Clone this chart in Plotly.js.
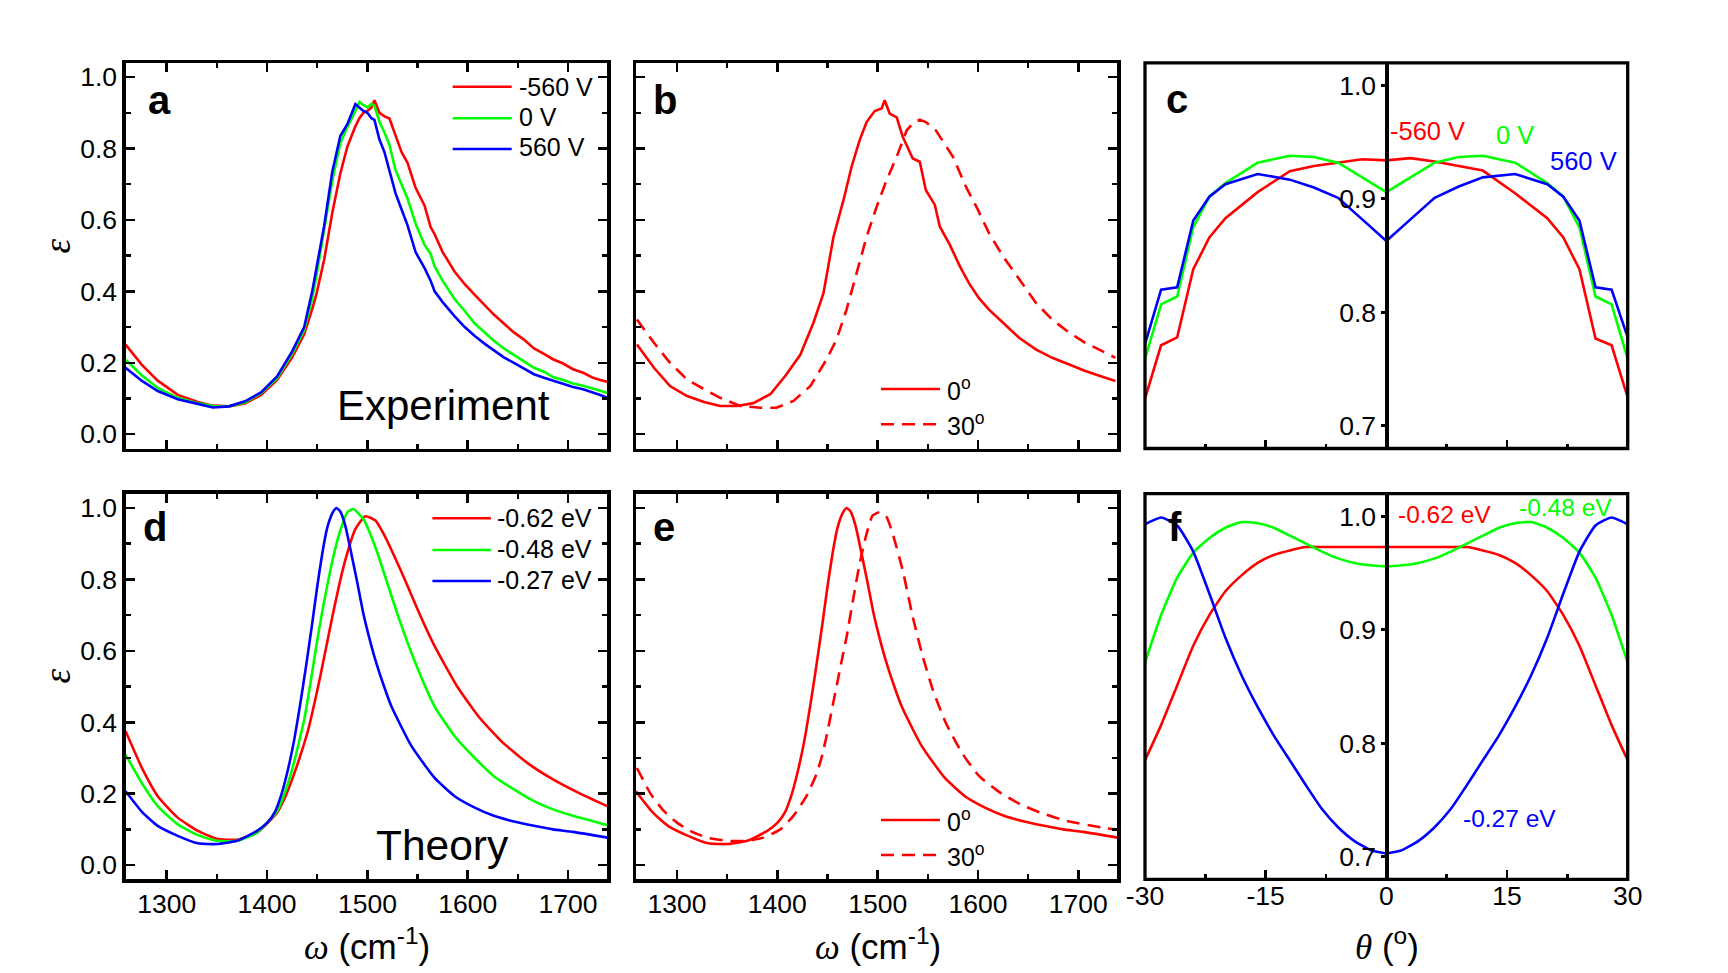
<!DOCTYPE html>
<html><head><meta charset="utf-8">
<script src="https://cdn.plot.ly/plotly-3.0.1.min.js"></script>
<style>html,body{margin:0;padding:0;background:#fff}#chart{width:1728px;height:973px}</style>
</head><body><div id="chart"></div>
<script>
// ---------------- DATA ----------------
// Panel a: experiment, spectra at three gate voltages
const omegaExp = [1259,1275,1291,1311,1331,1346,1362,1378,1394,1410,1425,1437,1445,1449,1457,1465,1473,1480,1488,1492,1496,1500,1504,1507,1512,1517,1522,1528,1534,1540,1548,1557,1563,1567,1575,1587,1597,1607,1617,1626,1636,1646,1656,1666,1676,1685,1695,1705,1715,1725,1732,1739];
const expRed   = [0.251,0.195,0.150,0.110,0.090,0.080,0.078,0.086,0.110,0.152,0.215,0.280,0.350,0.390,0.490,0.620,0.730,0.805,0.862,0.885,0.900,0.905,0.915,0.935,0.900,0.890,0.884,0.835,0.790,0.760,0.690,0.640,0.580,0.560,0.510,0.455,0.420,0.390,0.360,0.335,0.310,0.285,0.265,0.240,0.225,0.210,0.198,0.182,0.172,0.158,0.152,0.147];
const expGreen = [0.209,0.165,0.130,0.102,0.087,0.079,0.078,0.089,0.115,0.157,0.225,0.292,0.380,0.440,0.575,0.710,0.815,0.860,0.905,0.930,0.922,0.915,0.925,0.920,0.875,0.845,0.810,0.740,0.700,0.660,0.590,0.530,0.505,0.470,0.430,0.378,0.345,0.310,0.285,0.262,0.240,0.222,0.205,0.186,0.175,0.160,0.152,0.142,0.136,0.127,0.121,0.116];
const expBlue  = [0.186,0.150,0.121,0.098,0.085,0.075,0.078,0.092,0.117,0.162,0.232,0.300,0.400,0.465,0.585,0.735,0.835,0.868,0.924,0.915,0.905,0.900,0.885,0.880,0.825,0.790,0.735,0.675,0.630,0.585,0.510,0.465,0.430,0.400,0.370,0.330,0.300,0.275,0.253,0.235,0.215,0.200,0.185,0.168,0.158,0.150,0.140,0.132,0.126,0.117,0.110,0.102];
const expLabels = ['-560 V','0 V','560 V'];

// Panel b: experiment, 0 deg and 30 deg incidence
const omegaB0 = [1260,1277,1293,1310,1327,1343,1360,1376,1393,1409,1423,1436,1446,1456,1466,1474,1482,1489,1497,1504,1507,1512,1519,1525,1535,1542,1548,1557,1562,1572,1582,1591,1601,1611,1625,1641,1658,1674,1691,1707,1724,1737];
const expB0   = [0.251,0.186,0.135,0.107,0.090,0.079,0.079,0.087,0.112,0.167,0.223,0.312,0.395,0.553,0.656,0.749,0.823,0.874,0.905,0.912,0.935,0.898,0.887,0.833,0.772,0.763,0.684,0.642,0.581,0.530,0.470,0.423,0.381,0.349,0.312,0.270,0.237,0.214,0.195,0.177,0.161,0.149];
const omegaB30 = [1260,1277,1293,1310,1327,1343,1363,1383,1399,1416,1433,1449,1459,1469,1479,1489,1499,1509,1519,1529,1535,1542,1548,1558,1575,1588,1600,1611,1625,1641,1658,1674,1691,1707,1724,1737];
const expB30   = [0.321,0.256,0.200,0.153,0.126,0.102,0.079,0.074,0.074,0.093,0.135,0.209,0.265,0.349,0.451,0.553,0.637,0.712,0.777,0.851,0.870,0.881,0.874,0.851,0.777,0.693,0.628,0.563,0.498,0.433,0.367,0.321,0.284,0.256,0.233,0.214];
const angleLabels = ['0<sup>o</sup>','30<sup>o</sup>'];

// Panel c: experiment, angular dependence
const thetaExp    = [-30,-28,-26,-24,-22,-20,-16,-12,-9,-6,-3,0,3,6,9,12,16,20,22,24,26,28,30];
const expAngRed   = [0.724,0.771,0.778,0.838,0.866,0.883,0.906,0.9245,0.929,0.932,0.935,0.934,0.936,0.933,0.929,0.925,0.905,0.883,0.866,0.838,0.777,0.771,0.725];
const expAngGreen = [0.759,0.807,0.814,0.875,0.902,0.914,0.932,0.938,0.937,0.932,0.919,0.906,0.919,0.932,0.937,0.938,0.932,0.914,0.902,0.875,0.814,0.807,0.759];
const expAngBlue  = [0.772,0.820,0.822,0.881,0.902,0.913,0.922,0.917,0.910,0.901,0.882,0.863,0.882,0.901,0.911,0.919,0.922,0.913,0.902,0.881,0.822,0.820,0.778];

// Panel d: theory spectra at three Fermi levels
const omegaThRed = [1259,1276,1291,1311,1331,1350,1370,1390,1410,1418,1425,1433,1441,1453,1465,1477,1488,1498,1508,1518,1528,1538,1552,1567,1590,1612,1635,1660,1685,1710,1739];
const thRed      = [0.375,0.268,0.193,0.133,0.096,0.074,0.071,0.091,0.147,0.190,0.240,0.305,0.379,0.528,0.695,0.844,0.941,0.977,0.965,0.918,0.858,0.795,0.703,0.613,0.498,0.412,0.343,0.285,0.240,0.203,0.165];
const omegaThGreen = [1259,1276,1291,1311,1331,1350,1370,1390,1410,1418,1425,1431,1437,1443,1449,1455,1461,1467,1473,1480,1486,1496,1508,1520,1532,1548,1567,1587,1607,1626,1646,1666,1685,1705,1739];
const thGreen      = [0.309,0.226,0.165,0.114,0.084,0.068,0.068,0.091,0.151,0.205,0.268,0.335,0.407,0.505,0.612,0.710,0.797,0.875,0.937,0.988,0.997,0.969,0.890,0.788,0.686,0.565,0.444,0.361,0.300,0.249,0.212,0.179,0.156,0.138,0.112];
const omegaThBlue = [1259,1276,1291,1311,1331,1350,1370,1390,1400,1408,1414,1421,1427,1433,1439,1445,1450,1455,1460,1465,1469,1473,1478,1484,1490,1496,1502,1508,1516,1524,1544,1567,1587,1607,1626,1646,1666,1685,1705,1739];
const thBlue      = [0.207,0.147,0.110,0.082,0.061,0.059,0.068,0.096,0.118,0.150,0.195,0.270,0.350,0.450,0.560,0.677,0.780,0.872,0.945,0.985,1.000,0.990,0.950,0.872,0.790,0.704,0.635,0.574,0.505,0.444,0.333,0.244,0.193,0.161,0.138,0.122,0.110,0.100,0.093,0.077];
const thLabels = ['-0.62 eV','-0.48 eV','-0.27 eV'];

// Panel e: theory, 30 deg (0 deg is the -0.27 eV spectrum)
const omegaTh30 = [1260,1274,1287,1300,1313,1330,1350,1370,1386,1403,1416,1429,1439,1444,1449,1454,1459,1464,1469,1476,1482,1489,1495,1502,1509,1515,1525,1535,1545,1555,1568,1585,1601,1621,1641,1664,1691,1724,1737];
const th30      = [0.272,0.198,0.151,0.119,0.096,0.077,0.068,0.068,0.077,0.100,0.138,0.193,0.255,0.300,0.360,0.430,0.500,0.570,0.639,0.751,0.844,0.928,0.979,0.988,0.974,0.928,0.825,0.695,0.584,0.491,0.398,0.310,0.250,0.205,0.172,0.145,0.122,0.105,0.100];

// Panel f: theory, angular dependence
const thetaTh    = [-30,-28,-26,-24,-22,-20,-18,-16,-14,-12,-10,-8,-6,-4,-2,0,2,4,6,8,10,12,14,16,18,20,22,24,26,28,30];
const thAngRed   = [0.785,0.816,0.851,0.886,0.913,0.934,0.948,0.959,0.966,0.970,0.973,0.973,0.973,0.973,0.973,0.973,0.973,0.973,0.973,0.973,0.973,0.970,0.966,0.959,0.948,0.934,0.913,0.886,0.851,0.816,0.785];
const thAngGreen = [0.871,0.913,0.946,0.968,0.981,0.990,0.995,0.994,0.990,0.983,0.976,0.969,0.963,0.959,0.957,0.956,0.957,0.959,0.963,0.969,0.976,0.983,0.990,0.994,0.995,0.990,0.981,0.968,0.946,0.913,0.871];
const thAngBlue  = [0.993,0.999,0.992,0.969,0.932,0.893,0.860,0.832,0.807,0.785,0.763,0.742,0.726,0.714,0.706,0.703,0.706,0.714,0.726,0.742,0.763,0.785,0.807,0.832,0.860,0.893,0.932,0.969,0.992,0.999,0.993];

// Tick labels
const omegaTicks = [1300,1400,1500,1600,1700];
const omegaTickText = ['1300','1400','1500','1600','1700'];
const thetaTicks = [-30,-15,0,15,30];
const thetaTickText = ['-30','-15','0','15','30'];
const epsTicks = [0,0.2,0.4,0.6,0.8,1.0];
const epsTickText = ['0.0','0.2','0.4','0.6','0.8','1.0'];
const angEpsTicks = [0.7,0.8,0.9,1.0];
const angEpsTickText = ['0.7','0.8','0.9','1.0'];
const panelLetters = ['a','b','c','d','e','f'];

// ---------------- LAYOUT ----------------
const W = 1728, H = 973;
const px = x => x / W, py = y => 1 - y / H;
const FONT = 'Arial, "Liberation Sans", sans-serif';
const SERIF = '"Liberation Serif", "Times New Roman", serif';
const RED = '#ff0000', GREEN = '#00ff00', BLUE = '#0000ff', BLK = '#000000';
const LW = 2.6;
const FW = 3.3;
const TICKSZ = 26.5;
const COLS = [[125.6, 607.2], [635.9, 1117.4], [1145, 1627.7]];
const ROWS = [[62.8, 448.5], [493.7, 879.4]];
const dom = c => [px(c[0]), px(c[1])];
const domY = r => [py(r[1]), py(r[0])];

function omegaAxis(col, anchor, labels) {
  return {domain: dom(COLS[col]), anchor: anchor, range: [1259, 1739],
    tickmode: 'array', tickvals: omegaTicks, ticktext: omegaTickText,
    showticklabels: labels, ticks: 'inside', ticklen: 9, tickwidth: 2.5, tickcolor: BLK,
    ticklabelstandoff: -2,
    minor: {ticks: 'inside', dtick: 50, tick0: 1250, ticklen: 5, tickwidth: 2.5, tickcolor: BLK, showgrid: false},
    showline: true, linecolor: BLK, linewidth: FW, mirror: 'allticks',
    showgrid: false, zeroline: false, tickfont: {family: FONT, size: TICKSZ, color: BLK}, fixedrange: true};
}
function epsAxis(row, anchor, labels) {
  return {domain: domY(ROWS[row]), anchor: anchor, range: [-0.04, 1.04],
    tickmode: 'array', tickvals: epsTicks, ticktext: epsTickText,
    showticklabels: labels, ticks: 'inside', ticklen: 9, tickwidth: 2.5, tickcolor: BLK,
    minor: {ticks: 'inside', dtick: 0.1, tick0: 0, ticklen: 5, tickwidth: 2.5, tickcolor: BLK, showgrid: false},
    showline: true, linecolor: BLK, linewidth: FW, mirror: 'allticks',
    showgrid: false, zeroline: false, tickfont: {family: FONT, size: TICKSZ, color: BLK}, fixedrange: true};
}
function thetaAxis(anchor, labels) {
  return {domain: dom(COLS[2]), anchor: anchor, range: [-30, 30],
    tickmode: 'array', tickvals: thetaTicks, ticktext: thetaTickText,
    showticklabels: labels, ticks: 'inside', ticklen: 9, tickwidth: 2.5, tickcolor: BLK,
    ticklabelstandoff: -2,
    minor: {ticks: 'inside', dtick: 7.5, tick0: 0, ticklen: 5, tickwidth: 2.5, tickcolor: BLK, showgrid: false},
    showline: false, showgrid: false, zeroline: false,
    tickfont: {family: FONT, size: TICKSZ, color: BLK}, fixedrange: true};
}
function angEpsAxis(row) {
  return {domain: domY(ROWS[row]), anchor: 'free', position: (px(COLS[2][0]) + px(COLS[2][1])) / 2,
    side: 'left', range: [0.68, 1.02],
    tickmode: 'array', tickvals: angEpsTicks, ticktext: angEpsTickText,
    ticks: 'outside', ticklen: 4, tickwidth: 3, tickcolor: BLK,
    showline: true, linecolor: BLK, linewidth: FW,
    showgrid: false, zeroline: false, tickfont: {family: FONT, size: TICKSZ, color: BLK}, fixedrange: true};
}

const line = (x, y, color, xa, ya, dash, spline) => ({
  type: 'scatter', mode: 'lines', x: x, y: y, xaxis: xa, yaxis: ya, showlegend: false,
  hoverinfo: 'skip',
  line: {color: color, width: LW, dash: dash || 'solid', shape: spline ? 'spline' : 'linear', smoothing: 0.5}
});

const DASH = '13px,8px';
const traces = [
  line(omegaExp, expRed, RED, 'x', 'y'),
  line(omegaExp, expGreen, GREEN, 'x', 'y'),
  line(omegaExp, expBlue, BLUE, 'x', 'y'),
  line(omegaB0, expB0, RED, 'x2', 'y2'),
  line(omegaB30, expB30, RED, 'x2', 'y2', DASH),
  line(thetaExp, expAngRed, RED, 'x3', 'y3'),
  line(thetaExp, expAngGreen, GREEN, 'x3', 'y3'),
  line(thetaExp, expAngBlue, BLUE, 'x3', 'y3'),
  line(omegaThRed, thRed, RED, 'x4', 'y4', null, true),
  line(omegaThGreen, thGreen, GREEN, 'x4', 'y4', null, true),
  line(omegaThBlue, thBlue, BLUE, 'x4', 'y4', null, true),
  line(omegaThBlue, thBlue, RED, 'x5', 'y5', null, true),
  line(omegaTh30, th30, RED, 'x5', 'y5', DASH, true),
  line(thetaTh, thAngRed, RED, 'x6', 'y6', null, true),
  line(thetaTh, thAngGreen, GREEN, 'x6', 'y6', null, true),
  line(thetaTh, thAngBlue, BLUE, 'x6', 'y6', null, true)
];

const ann = (x, y, text, opt) => Object.assign({xref: 'paper', yref: 'paper', x: px(x), y: py(y),
  text: text, showarrow: false, xanchor: 'left', yanchor: 'middle',
  font: {family: FONT, size: 25, color: BLK}}, opt || {});

const annotations = [];
// panel letters
const letterPos = [[146, 100], [651, 100], [1164, 99.4], [141, 526.8], [651, 526.8], [1166, 526.8]];
panelLetters.forEach((t, i) => annotations.push(ann(letterPos[i][0], letterPos[i][1], '<b>' + t + '</b>', {font: {family: FONT, size: 40, color: BLK}})));
// Experiment / Theory
annotations.push(ann(443.2, 405.5, 'Experiment', {xanchor: 'center', font: {family: FONT, size: 42, color: BLK}}));
annotations.push(ann(442.8, 845.1, 'Theory', {xanchor: 'center', font: {family: FONT, size: 42.5, color: BLK}}));
// legend texts a
const legA = [87.3, 117.3, 147];
expLabels.forEach((t, i) => annotations.push(ann(516.5, legA[i], t)));
// legend texts d
const legD = [518, 548.6, 580.3];
thLabels.forEach((t, i) => annotations.push(ann(495, legD[i], t)));
// legend texts b / e
const legB = [389, 424], legE = [819.6, 854.6];
angleLabels.forEach((t, i) => {
  annotations.push(ann(945, legB[i], t));
  annotations.push(ann(945, legE[i], t));
});
// panel c labels
annotations.push(ann(1388, 131.3, expLabels[0], {font: {family: FONT, size: 25.5, color: RED}}));
annotations.push(ann(1494, 135.3, expLabels[1], {font: {family: FONT, size: 25.5, color: GREEN}}));
annotations.push(ann(1548, 161.3, expLabels[2], {font: {family: FONT, size: 25.5, color: BLUE}}));
// panel f labels
annotations.push(ann(1396, 514.6, thLabels[0], {font: {family: FONT, size: 24.5, color: RED}}));
annotations.push(ann(1517, 507.3, thLabels[1], {font: {family: FONT, size: 24.5, color: GREEN}}));
annotations.push(ann(1461, 818, thLabels[2], {font: {family: FONT, size: 24.5, color: BLUE}}));
// axis titles
const TSZ = 35;
const omegaTitle = '<span style="font-family:' + "'Liberation Serif'" + '"><i>ω</i></span> (cm<sup>-1</sup>)';
const thetaTitle = '<span style="font-family:' + "'Liberation Serif'" + '"><i>θ</i></span> (<sup>o</sup>)';
annotations.push(ann(366.7, 944.6, omegaTitle, {xanchor: 'center', font: {family: FONT, size: TSZ, color: BLK}}));
annotations.push(ann(877.5, 944.6, omegaTitle, {xanchor: 'center', font: {family: FONT, size: TSZ, color: BLK}}));
annotations.push(ann(1386.7, 944.6, thetaTitle, {xanchor: 'center', font: {family: FONT, size: TSZ, color: BLK}}));
annotations.push(ann(56.6, 246, '<i>ε</i>', {xanchor: 'center', textangle: -90, font: {family: SERIF, size: 37, color: BLK}}));
annotations.push(ann(56.6, 676, '<i>ε</i>', {xanchor: 'center', textangle: -90, font: {family: SERIF, size: 37, color: BLK}}));

// shapes: frames for c / f, legend samples
const shapes = [];
['x3', 'x6'].forEach((xa, i) => {
  const ya = i === 0 ? 'y3' : 'y6';
  shapes.push({type: 'rect', xref: xa + ' domain', yref: ya + ' domain', x0: 0, x1: 1, y0: 0, y1: 1,
    line: {color: BLK, width: FW}, fillcolor: 'rgba(0,0,0,0)'});
});
const seg = (x0, x1, y, color, dash) => ({type: 'line', xref: 'paper', yref: 'paper',
  x0: px(x0), x1: px(x1), y0: py(y), y1: py(y), line: {color: color, width: LW, dash: dash || 'solid'}});
const legColors = [RED, GREEN, BLUE];
[86.7, 118.3, 149].forEach((y, i) => shapes.push(seg(452.7, 511.7, y, legColors[i])));
[518.3, 550, 581].forEach((y, i) => shapes.push(seg(432.4, 490.9, y, legColors[i])));
shapes.push(seg(881, 940, 389, RED));
shapes.push(seg(881, 940, 424.3, RED, DASH));
shapes.push(seg(881, 940, 820, RED));
shapes.push(seg(881, 940, 855, RED, DASH));

const layout = {
  width: W, height: H, margin: {l: 0, r: 0, t: 0, b: 0, pad: 0},
  paper_bgcolor: '#ffffff', plot_bgcolor: 'rgba(0,0,0,0)', showlegend: false,
  font: {family: FONT, color: BLK},
  xaxis: omegaAxis(0, 'y', false), yaxis: epsAxis(0, 'x', true),
  xaxis2: omegaAxis(1, 'y2', false), yaxis2: epsAxis(0, 'x2', false),
  xaxis3: thetaAxis('y3', false), yaxis3: angEpsAxis(0),
  xaxis4: omegaAxis(0, 'y4', true), yaxis4: epsAxis(1, 'x4', true),
  xaxis5: omegaAxis(1, 'y5', true), yaxis5: epsAxis(1, 'x5', false),
  xaxis6: thetaAxis('y6', true), yaxis6: angEpsAxis(1),
  annotations: annotations, shapes: shapes
};

Plotly.newPlot('chart', traces, layout, {displayModeBar: false, staticPlot: true});
</script>
</body></html>
